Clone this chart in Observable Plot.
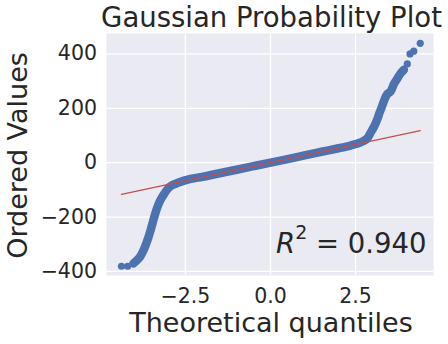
<!DOCTYPE html>
<html><head><meta charset="utf-8">
<script src="https://cdn.jsdelivr.net/npm/d3@7"></script>
<script src="https://cdn.jsdelivr.net/npm/@observablehq/plot@0.6"></script>
<style>
html,body{margin:0;padding:0;background:#fff;}
</style>
</head><body><div id="chart"></div>
<script>
const title = "Gaussian Probability Plot";
const xLabel = "Theoretical quantiles";
const yLabel = "Ordered Values";
const r2 = 0.940;
const xTicks = [-2.5, 0, 2.5];
const yTicks = [-400, -200, 0, 200, 400];

// continuous band of ordered values (theoretical quantile, ordered value)
const bandX = [-4.03, -3.85, -3.71, -3.60, -3.51, -3.43, -3.34, -3.24, -3.12, -3.01, -2.91, -2.74, -2.35,
  -2.0, -1.5, -1.0, -0.5, 0, 0.5, 1.0, 1.5, 2.0, 2.35, 2.6, 2.74, 2.85, 2.94, 3.02, 3.09, 3.15, 3.20,
  3.27, 3.35, 3.43, 3.53, 3.63, 3.72, 3.82, 3.92];
const bandY = [-371, -349, -316, -279, -242, -206, -169, -139, -114, -95, -84, -75, -60,
  -52, -39, -26, -13, 0, 13, 27, 40, 53, 63, 72, 80, 90, 110, 127, 145, 163, 182,
  205, 232, 252, 262, 290, 308, 328, 342];

// isolated extreme points
const tailX = [-4.38, -4.20, 4.02, 4.10, 4.21, 4.40];
const tailY = [-381, -381, 363, 400, 410, 439];

// least-squares fit line endpoints
const fitX = [-4.38, 4.40];
const fitY = [-117, 118];

const blue = "#4C72B0", red = "#C44E52";
const band = bandX.map((x, i) => ({x, y: bandY[i]}));
const tail = tailX.map((x, i) => ({x, y: tailY[i]}));
const fit = fitX.map((x, i) => ({x, y: fitY[i]}));
const fmtNum = (d, p) => (d < 0 ? "\u2212" : "") + (p ? Math.abs(d).toFixed(p) : Math.abs(d));
const r2Text = "R2 = " + r2.toFixed(3);

const chart = Plot.plot({
  width: 448, height: 344,
  marginLeft: 106, marginRight: 15, marginTop: 33, marginBottom: 69,
  style: {fontFamily: "DejaVu Sans", color: "#262626", background: "white", overflow: "visible"},
  x: {domain: [-4.82, 4.79]},
  y: {domain: [-415, 475]},
  marks: [
    Plot.frame({fill: "#EAEAF2", stroke: "none"}),
    Plot.gridX({ticks: xTicks, stroke: "white", strokeOpacity: 1, strokeWidth: 1.3}),
    Plot.gridY({ticks: yTicks, stroke: "white", strokeOpacity: 1, strokeWidth: 1.3}),
    Plot.line(band, {x: "x", y: "y", stroke: blue, strokeWidth: 8.5, strokeLinecap: "round", strokeLinejoin: "round", curve: "catmull-rom"}),
    Plot.dot(tail, {x: "x", y: "y", r: 3.6, fill: blue, stroke: "none"}),
    Plot.line(fit, {x: "x", y: "y", stroke: red, strokeWidth: 1.3}),
    Plot.axisX({ticks: xTicks, tickSize: 0, tickPadding: 12.5, tickFormat: d => fmtNum(d, 1), fontSize: 20.5, label: null}),
    Plot.axisY({ticks: yTicks, tickSize: 0, tickPadding: 9.5, tickFormat: d => fmtNum(d, 0), fontSize: 20.5, label: null}),
    Plot.text([title], {text: d => d, frameAnchor: "top", textAnchor: "middle", lineAnchor: "bottom", dx: 1.5, dy: -6.3, fontSize: 27.5}),
    Plot.text([xLabel], {text: d => d, frameAnchor: "bottom", textAnchor: "middle", lineAnchor: "bottom", dx: 1, dy: 56.5, fontSize: 27}),
    Plot.text([yLabel], {text: d => d, frameAnchor: "left", textAnchor: "middle", lineAnchor: "bottom", rotate: -90, dx: -80, dy: 1, fontSize: 27}),
    Plot.text([r2Text], {text: d => d, frameAnchor: "bottom-right", textAnchor: "end", lineAnchor: "bottom", dx: -7, dy: -23, fontSize: 27.5})
  ]
});
document.getElementById("chart").appendChild(chart);

// render R^2 with italic R and superscript 2
d3.select(chart).selectAll("text").filter(function () { return this.textContent === r2Text; }).each(function () {
  const t = d3.select(this);
  t.text(null);
  t.append("tspan").attr("font-style", "italic").text("R");
  t.append("tspan").attr("font-size", "19px").attr("dy", "-14").text("2");
  t.append("tspan").attr("dy", "14").text(" = " + r2.toFixed(3));
});
</script>
</body></html>
